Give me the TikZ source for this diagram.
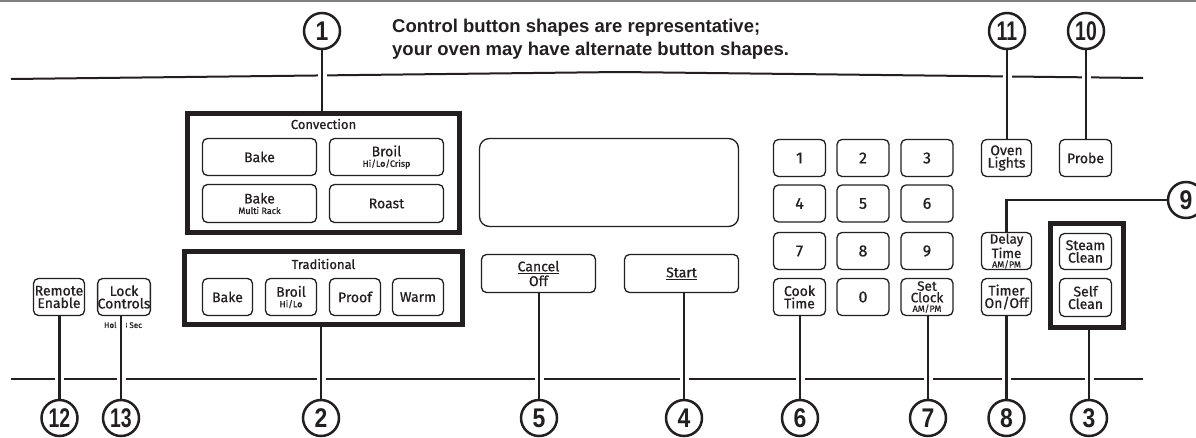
\documentclass[tikz,border=0pt]{standalone}
\usepackage{fontspec}
\setmainfont{Liberation Sans}
\newfontfamily\btnf{Fira Sans}[FakeBold=0.7]
\definecolor{ink}{HTML}{231F20}
\begin{document}
\begin{tikzpicture}[x=1pt,y=-1pt,
  btn/.style={draw=ink,line width=1.3pt,rounded corners=5pt,inner sep=0pt,align=center,text=ink,
    font=\btnf\fontsize{14}{12.5}\selectfont},
  key/.style={btn,minimum width=52pt,minimum height=37pt,font=\btnf\fontsize{16}{16}\selectfont},
  grp/.style={draw=ink,line width=5pt,inner sep=0pt},
  callout/.style={circle,draw=ink,line width=2.5pt,fill=white,minimum size=36pt,inner sep=0pt,text=ink,
    font=\bfseries\fontsize{27}{27}\selectfont},
  leader/.style={draw=ink,line width=2.2pt,preaction={draw=white,line width=9pt,shorten <=4pt,shorten >=4pt}},
  rule/.style={draw=ink,line width=1.6pt}
]
\newcommand{\subl}[1]{{\fontsize{9}{9}\selectfont #1}}
\newcommand{\nn}[1]{\scalebox{0.72}[1]{#1}}
\newcommand{\n}[1]{\scalebox{0.85}[1]{#1}}
\useasboundingbox (0,0) rectangle (1196,437);
\fill[white] (0,0) rectangle (1196,437);
\draw[gray,line width=1.5pt] (0,0.75) -- (1196,0.75);
% horizontal rules
\draw[rule,line width=2pt] (11,79) -- (620,72) -- (1143,78);
\draw[rule] (11,379) -- (1143,379);
% heading
\node[anchor=base west,inner sep=0pt,text=ink,font=\bfseries\fontsize{18.5}{22}\selectfont] (h1) at (392,32) {Control button shapes are representative;};
\node[anchor=base west,inner sep=0pt,text=ink,font=\bfseries\fontsize{18.5}{22}\selectfont] (h2) at (392,55) {your oven may have alternate button shapes.};
% hold text
\node[inner sep=0pt,text=ink,font=\btnf\fontsize{8}{8}\selectfont] (hold) at (123,325) {Hold 3 Sec};
% group boxes
\node[grp,minimum width=272pt,minimum height=119pt] (conv) at (323.5,173) {};
\node[text=ink,font=\btnf\fontsize{13}{13}\selectfont] (convt) at (323.5,124) {Convection};
\node[grp,minimum width=278pt,minimum height=73pt] (trad) at (323.5,288) {};
\node[text=ink,font=\btnf\fontsize{13}{13}\selectfont] (tradt) at (323.5,264) {Traditional};
\node[grp,minimum width=73pt,minimum height=104pt] (clean) at (1087,275.5) {};
% convection buttons
\node[btn,minimum width=114pt,minimum height=37pt] (cbake) at (259.5,157) {Bake};
\node[btn,minimum width=114pt,minimum height=37pt] (cbroil) at (386.5,157) {Broil\\[-2pt]\subl{Hi/Lo/Crisp}};
\node[btn,minimum width=114pt,minimum height=38pt] (cmulti) at (259.5,203.5) {Bake\\[-2pt]\subl{Multi Rack}};
\node[btn,minimum width=114pt,minimum height=38pt] (croast) at (386.5,203.5) {Roast};
% traditional buttons
\node[btn,minimum width=50pt,minimum height=37pt] (tbake) at (227.5,297) {Bake};
\node[btn,minimum width=51pt,minimum height=37pt] (tbroil) at (291,297) {Broil\\[-2pt]\subl{Hi/Lo}};
\node[btn,minimum width=51pt,minimum height=37pt] (tproof) at (355,297) {Proof};
\node[btn,minimum width=51pt,minimum height=37pt] (twarm) at (418,297) {Warm};
% left buttons
\node[btn,minimum width=51pt,minimum height=37pt] (remote) at (59,297) {Remote\\Enable};
\node[btn,minimum width=51pt,minimum height=37pt] (lock) at (124,297) {Lock\\Controls};
% display
\node[draw=ink,line width=1.3pt,rounded corners=10pt,minimum width=259pt,minimum height=88pt] (disp) at (609,182.5) {};
\node[btn,minimum width=114pt,minimum height=38pt] (cancel) at (538.5,273.5) {\underline{Cancel}\\[1pt]Off};
\node[btn,minimum width=114pt,minimum height=38pt] (start) at (681.5,273.5) {\underline{Start}};
% keypad
\node[key] (k1) at (799.5,158) {1};
\node[key] (k2) at (863,158) {2};
\node[key] (k3) at (927,158) {3};
\node[key] (k4) at (799.5,203.5) {4};
\node[key] (k5) at (863,203.5) {5};
\node[key] (k6) at (927,203.5) {6};
\node[key] (k7) at (799.5,251) {7};
\node[key] (k8) at (863,251) {8};
\node[key] (k9) at (927,251) {9};
\node[btn,minimum width=52pt,minimum height=37pt] (cook) at (799.5,297) {Cook\\Time};
\node[key] (k0) at (863,297) {0};
\node[btn,minimum width=52pt,minimum height=37pt,font=\btnf\fontsize{13.5}{11.5}\selectfont] (clock) at (927,297) {Set\\Clock\\[-2pt]\subl{AM/PM}};
% right buttons
\node[btn,minimum width=50pt,minimum height=37pt] (lights) at (1006.5,158) {Oven\\Lights};
\node[btn,minimum width=52pt,minimum height=37pt] (probe) at (1085.5,158) {Probe};
\node[btn,minimum width=50pt,minimum height=37pt,font=\btnf\fontsize{13.5}{11.5}\selectfont] (delay) at (1006.5,251) {Delay\\Time\\[-2pt]\subl{AM/PM}};
\node[btn,minimum width=50pt,minimum height=37pt] (timer) at (1006.5,297) {Timer\\On/Off};
\node[btn,minimum width=52pt,minimum height=36pt] (steam) at (1085.5,251.5) {Steam\\Clean};
\node[btn,minimum width=52pt,minimum height=38pt] (self) at (1085.5,297.5) {Self\\Clean};
% callouts
\node[callout] (c1) at (322,31) {\n{1}};
\node[callout] (c11) at (1007,31) {\nn{11}};
\node[callout] (c10) at (1086,31) {\nn{10}};
\node[callout] (c9) at (1186,200) {\n{9}};
\node[callout] (c12) at (59.5,418) {\nn{12}};
\node[callout] (c13) at (121,418) {\nn{13}};
\node[callout] (c2) at (321,418) {\n{2}};
\node[callout] (c5) at (539,418) {\n{5}};
\node[callout] (c4) at (684,418) {\n{4}};
\node[callout] (c6) at (800,418) {\n{6}};
\node[callout] (c7) at (928,418) {\n{7}};
\node[callout] (c8) at (1006.5,418) {\n{8}};
\node[callout] (c3) at (1089,418) {\n{3}};
% leaders
\draw[leader] (c1.south) -- (c1 |- conv.north);
\draw[leader] (c11.south) -- (c11 |- lights.north);
\draw[leader] (c10.south) -- (c10 |- probe.north);
\draw[leader] (delay.north) |- (c9.west);
\draw[leader] (c12.north) -- (c12 |- remote.south);
\draw[leader] (c13.north) -- (c13 |- lock.south);
\draw[leader] (c2.north) -- (c2 |- trad.south);
\draw[leader] (c5.north) -- (c5 |- cancel.south);
\draw[leader] (c4.north) -- (c4 |- start.south);
\draw[leader] (c6.north) -- (c6 |- cook.south);
\draw[leader] (c7.north) -- (c7 |- clock.south);
\draw[leader] (c8.north) -- (c8 |- timer.south);
\draw[leader] (c3.north) -- (c3 |- clean.south);
\end{tikzpicture}
\end{document}
